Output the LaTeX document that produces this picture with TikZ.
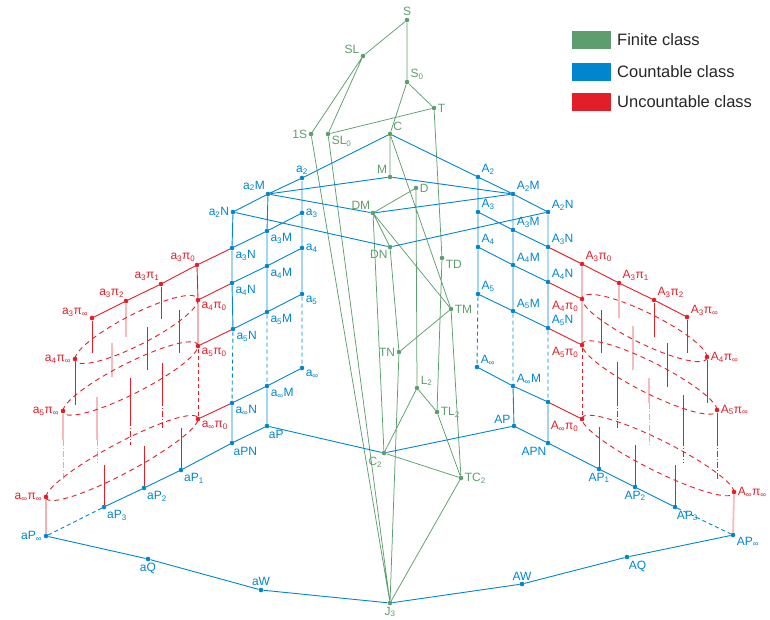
\documentclass[tikz,border=0pt]{standalone}
\usepackage{fontspec}
\setmainfont{Liberation Sans}
\definecolor{gC}{RGB}{94,158,110}
\definecolor{bC}{RGB}{0,133,207}
\definecolor{rC}{RGB}{227,30,40}
\newcommand\lsb[1]{\textsubscript{#1}}
\newcommand\redloop[5]{\draw[rl,rdsh] plot[domain=0:360,samples=120] ({(#1+#3)/2+(#3-#1)/2*cos(\x)},{(#2+#4)/2+(#4-#2)/2*cos(\x)-#5*sin(\x)});}
\begin{document}
\begin{tikzpicture}[x=1pt,y=-1pt,
  dotn/.style={circle,inner sep=0pt,minimum size=4.6pt,draw=none},
  gd/.style={dotn,fill=gC}, bd/.style={dotn,fill=bC}, rd/.style={dotn,fill=rC},
  every label/.style={font=\fontsize{12}{14}\selectfont,inner sep=1.2pt},
  gl/.style={draw=gC,line width=0.75pt},
  bl/.style={draw=bC,line width=0.9pt},
  rl/.style={draw=rC,line width=0.9pt},
  dsh/.style={dash pattern=on 4pt off 3pt},
  rdsh/.style={dash pattern=on 5pt off 4pt},
  ddot/.style={dash pattern=on 6pt off 2pt on 1pt off 2pt},
  pale/.style={line width=1.8pt,draw opacity=0.3},
  legbox/.style={minimum width=39pt,minimum height=18pt,inner sep=0pt},
  legtxt/.style={anchor=west,font=\fontsize{16.5}{20}\selectfont,text=black!85,inner sep=0pt}]
\useasboundingbox (0,0) rectangle (770,619);

% legend
\node[legbox,fill=gC] (lg) at (591.5,40) {};
\node[legbox,fill=bC] (lb) at (591.5,72) {};
\node[legbox,fill=rC] (lr) at (591.5,102) {};
\node[legtxt] (lgt) at (617,40) {Finite class};
\node[legtxt] (lbt) at (617,72) {Countable class};
\node[legtxt] (lrt) at (617,102) {Uncountable class};

% green nodes
\begin{scope}[every label/.append style={text=gC}]
\node[gd,label={90:S}] (S) at (407,20) {};
\node[gd,label={165:SL}] (SL) at (363,56) {};
\node[gd,label={25:S\lsb{0}}] (S0) at (407,82) {};
\node[gd,label={0:T}] (T) at (434,108) {};
\node[gd,label={180:1S}] (oneS) at (311,134) {};
\node[gd,label={-15:SL\lsb{0}}] (SL0) at (328,134) {};
\node[gd,label={40:C}] (C) at (390,134) {};
\node[gd,label={130:M}] (M) at (390,177) {};
\node[gd,label={0:D}] (D) at (416,188) {};
\node[gd,label={125:DM}] (DM) at (373,213) {};
\node[gd,label={-115:DN}] (DN) at (390,247) {};
\node[gd,label={-15:TD}] (TD) at (442,258) {};
\node[gd,label={0:TM}] (TM) at (451,309) {};
\node[gd,label={180:TN}] (TN) at (399,352) {};
\node[gd,label={15:L\lsb{2}}] (L2) at (417,388) {};
\node[gd,label={0:TL\lsb{2}}] (TL2) at (437,412) {};
\node[gd,label={-100:C\lsb{2}}] (C2) at (384,453) {};
\node[gd,label={0:TC\lsb{2}}] (TC2) at (461,478) {};
\node[gd,label={-90:J\lsb{3}}] (J3) at (390,603) {};
\end{scope}

% blue nodes
\begin{scope}[every label/.append style={text=bC}]
\node[bd,label={90:a\lsb{2}}] (a2) at (302,178) {};
\node[bd,label={135:a\lsb{2}M}] (a2M) at (268,194) {};
\node[bd,label={180:a\lsb{2}N}] (a2N) at (233,212) {};
\node[bd,label={0:a\lsb{3}}] (a3) at (302,213) {};
\node[bd,label={-30:a\lsb{3}M}] (a3M) at (267,231) {};
\node[bd,label={-30:a\lsb{3}N}] (a3N) at (232,248) {};
\node[bd,label={0:a\lsb{4}}] (a4) at (302,248) {};
\node[bd,label={-30:a\lsb{4}M}] (a4M) at (267,266) {};
\node[bd,label={-30:a\lsb{4}N}] (a4N) at (232,283) {};
\node[bd,label={-15:a\lsb{5}}] (a5) at (302,294) {};
\node[bd,label={-30:a\lsb{5}M}] (a5M) at (267,312) {};
\node[bd,label={-30:a\lsb{5}N}] (a5N) at (233,329) {};
\node[bd,label={-20:a\lsb{∞}}] (ainf) at (302,368) {};
\node[bd,label={-20:a\lsb{∞}M}] (ainfM) at (267,386) {};
\node[bd,label={-30:a\lsb{∞}N}] (ainfN) at (232,403) {};
\node[bd,label={-80:aP}] (aP) at (267,426) {};
\node[bd,label={-85:aPN}] (aPN) at (232,443) {};
\node[bd,label={-45:aP\lsb{1}}] (aP1) at (181,470) {};
\node[bd,label={-45:aP\lsb{2}}] (aP2) at (144,488) {};
\node[bd,label={-45:aP\lsb{3}}] (aP3) at (104,507) {};
\node[bd,label={180:aP\lsb{∞}}] (aPinf) at (46,536) {};
\node[bd,label={-90:aQ}] (aQ) at (148,559) {};
\node[bd,label={90:aW}] (aW) at (261,590) {};
\node[bd,label={30:A\lsb{2}}] (A2) at (478,177) {};
\node[bd,label={20:A\lsb{2}M}] (A2M) at (513,194) {};
\node[bd,label={10:A\lsb{2}N}] (A2N) at (548,212) {};
\node[bd,label={25:A\lsb{3}}] (A3) at (478,212) {};
\node[bd,label={20:A\lsb{3}M}] (A3M) at (513,230) {};
\node[bd,label={20:A\lsb{3}N}] (A3N) at (548,247) {};
\node[bd,label={25:A\lsb{4}}] (A4) at (478,247) {};
\node[bd,label={15:A\lsb{4}M}] (A4M) at (513,265) {};
\node[bd,label={20:A\lsb{4}N}] (A4N) at (548,282) {};
\node[bd,label={30:A\lsb{5}}] (A5) at (478,294) {};
\node[bd,label={15:A\lsb{5}M}] (A5M) at (513,311) {};
\node[bd,label={20:A\lsb{5}N}] (A5N) at (548,328) {};
\node[bd,label={10:A\lsb{∞}}] (Ainf) at (477,367) {};
\node[bd,label={10:A\lsb{∞}M}] (AinfM) at (513,386) {};
\node[bd] (AinfN) at (548,402) {};
\node[bd,label={150:AP}] (AP) at (514,426) {};
\node[bd,label={-100:APN}] (APN) at (548,443) {};
\node[bd,label={-90:AP\lsb{1}}] (AP1) at (599,469) {};
\node[bd,label={-90:AP\lsb{2}}] (AP2) at (635,487) {};
\node[bd,label={-80:AP\lsb{3}}] (AP3) at (675,507) {};
\node[bd,label={-10:AP\lsb{∞}}] (APinf) at (733,535) {};
\node[bd,label={-80:AQ}] (AQ) at (627,557) {};
\node[bd,label={90:AW}] (AW) at (522,584) {};
\end{scope}

% red nodes
\begin{scope}[every label/.append style={text=rC}]
\node[rd,label={95:a\lsb{3}π\lsb{0}}] (a3p0) at (197,265) {};
\node[rd,label={95:a\lsb{3}π\lsb{1}}] (a3p1) at (161,284) {};
\node[rd,label={100:a\lsb{3}π\lsb{2}}] (a3p2) at (126,301) {};
\node[rd,label={175:a\lsb{3}π\lsb{∞}}] (a3pinf) at (92,318) {};
\node[rd,label={-25:a\lsb{4}π\lsb{0}}] (a4p0) at (198,300) {};
\node[rd,label={-25:a\lsb{5}π\lsb{0}}] (a5p0) at (198,346) {};
\node[rd,label={-20:a\lsb{∞}π\lsb{0}}] (ainfp0) at (198,419) {};
\node[rd,label={180:a\lsb{4}π\lsb{∞}}] (a4pinf) at (75,359) {};
\node[rd,label={180:a\lsb{5}π\lsb{∞}}] (a5pinf) at (63,411) {};
\node[rd,label={180:a\lsb{∞}π\lsb{∞}}] (ainfpinf) at (46,497) {};
\node[rd,label={30:A\lsb{3}π\lsb{0}}] (A3p0) at (582,264) {};
\node[rd,label={30:A\lsb{3}π\lsb{1}}] (A3p1) at (619,283) {};
\node[rd,label={30:A\lsb{3}π\lsb{2}}] (A3p2) at (654,300) {};
\node[rd,label={5:A\lsb{3}π\lsb{∞}}] (A3pinf) at (687,317) {};
\node[rd,label={200:A\lsb{4}π\lsb{0}}] (A4p0) at (582,299) {};
\node[rd,label={200:A\lsb{5}π\lsb{0}}] (A5p0) at (582,345) {};
\node[rd,label={200:A\lsb{∞}π\lsb{0}}] (Ainfp0) at (582,419) {};
\node[rd,label={0:A\lsb{4}π\lsb{∞}}] (A4pinf) at (707,357) {};
\node[rd,label={0:A\lsb{5}π\lsb{∞}}] (A5pinf) at (717,410) {};
\node[rd,label={0:A\lsb{∞}π\lsb{∞}}] (Ainfpinf) at (734,492) {};
\end{scope}

% green edges
\draw[gl] (S) -- (SL) (S) -- (S0) (SL) -- (oneS) (SL) -- (SL0)
  (S0) -- (C) (S0) -- (T) (T) -- (SL0) (T) -- (TD) (C) -- (M) (C) -- (TM)
  (D) -- (DM) (D) -- (L2) (DM) -- (DN) (DM) -- (TM) (DM) -- (C2)
  (DN) -- (TN) (TN) -- (TM) (TN) -- (J3) (oneS) -- (J3) (SL0) -- (J3)
  (L2) -- (C2) (L2) -- (TL2) (TL2) -- (TC2) (TD) -- (TL2) (TM) -- (TC2)
  (C2) -- (TC2) (TC2) -- (J3);

% blue edges
\draw[bl] (C) -- (a2) -- (a2M) -- (a2N) (C) -- (A2) -- (A2M) -- (A2N)
  (M) -- (a2M) (M) -- (A2M) (DM) -- (a2M) (DM) -- (A2M) (DN) -- (a2N) (DN) -- (A2N)
  (a3) -- (a3M) -- (a3N) (a4) -- (a4M) -- (a4N) (a5) -- (a5M) -- (a5N)
  (ainf) -- (ainfM) -- (ainfN) (aP) -- (aPN) -- (aP1) -- (aP2) -- (aP3)
  (a4) -- (a5) (a2M) -- (a3M) -- (a4M) -- (a5M) (ainfM) -- (aP)
  (a2N) -- (a3N) -- (a4N) -- (a5N) (ainfN) -- (aPN)
  (aPinf) -- (aQ) -- (aW) -- (J3) -- (AW) -- (AQ) -- (APinf)
  (aP) -- (C2) -- (AP)
  (A3) -- (A3M) -- (A3N) (A4) -- (A4M) -- (A4N) (A5) -- (A5M) -- (A5N)
  (Ainf) -- (AinfM) -- (AinfN) (AP) -- (APN) -- (AP1) -- (AP2) -- (AP3)
  (A2) -- (A3) -- (A4) -- (A5) (A3M) -- (A4M) -- (A5M) (AinfM) -- (AP)
  (A4N) -- (A5N) (AinfN) -- (APN);
\draw[bl,pale] (a2) -- (a3) -- (a4) (A2M) -- (A3M) (A2N) -- (A3N) -- (A4N);
\draw[bl,dsh] (a5) -- (ainf) (a5M) -- (ainfM) (a5N) -- (ainfN) (aP3) -- (aPinf)
  (A5) -- (Ainf) (A5M) -- (AinfM) (A5N) -- (AinfN) (AP3) -- (APinf);

% red edges
\draw[rl] (a3N) -- (a3p0) -- (a3p1) -- (a3p2) -- (a3pinf)
  (a4N) -- (a4p0) (a5N) -- (a5p0) (ainfN) -- (ainfp0)
  (a3p0) -- (a4p0) -- (a5p0) (ainfpinf) -- (aPinf)
  (A3N) -- (A3p0) -- (A3p1) -- (A3p2) -- (A3pinf)
  (A4N) -- (A4p0) (A5N) -- (A5p0) (AinfN) -- (Ainfp0);
\draw[rl,pale] (A3p0) -- (A4p0) -- (A5p0) (Ainfpinf) -- (APinf);
\draw[rl,dsh] (a5p0) -- (ainfp0) (A5p0) -- (Ainfp0);

% red loops
\redloop{198}{300}{75}{359}{17}
\redloop{198}{346}{63}{411}{17}
\redloop{198}{419}{46}{497}{17}
\redloop{582}{299}{707}{357}{17}
\redloop{582}{345}{717}{410}{17}
\redloop{582}{419}{734}{492}{17}

% red posts, left
\draw[rl] (a3p1) -- ++(0,35) (a3pinf) -- ++(0,35) (a4pinf) -- ++(0,46)
  (179,310) -- (179,353) (147,327) -- (147,370)
  (162,363) -- (162,400) (130,378) -- (130,420)
  (aP1) -- ++(0,-42) (aP2) -- ++(0,-42) (aP3) -- ++(0,-42);
\draw[rl,pale] (a3p2) -- ++(0,36) (112,343) -- (112,377)
  (97,397) -- (97,440) (a5pinf) -- ++(0,29);
\draw[rl,ddot] (162,400) -- (162,430) (130,420) -- (130,445);
\draw[rl,ddot,draw opacity=0.4] (97,440) -- (97,463) (63,440) -- (63,480);

% red posts, right
\draw[rl] (A3p2) -- ++(0,37) (A3pinf) -- ++(0,36) (A4pinf) -- ++(0,46)
  (601,310) -- (601,353) (667,343) -- (667,387)
  (617,362) -- (617,400) (683,395) -- (683,440) (A5pinf) -- ++(0,30)
  (AP1) -- ++(0,-42) (AP2) -- ++(0,-42) (AP3) -- ++(0,-42);
\draw[rl,pale] (A3p1) -- ++(0,35) (633,326) -- (633,370) (649,378) -- (649,403);
\draw[rl,ddot] (617,400) -- (617,430) (683,440) -- (683,463) (717,440) -- (717,480);
\draw[rl,ddot,draw opacity=0.4] (649,403) -- (649,445);
\end{tikzpicture}
\end{document}
